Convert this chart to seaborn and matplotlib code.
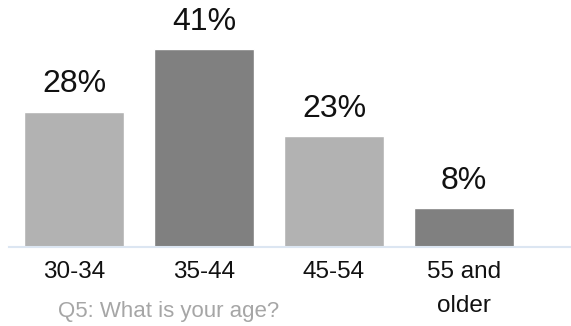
import matplotlib
matplotlib.use("Agg")
import matplotlib.pyplot as plt
import seaborn as sns
import pandas as pd

categories = ["30-34", "35-44", "45-54", "55 and\nolder"]
shares = [28, 41, 23, 8]
bar_colors = ["#b2b2b2", "#808080", "#b2b2b2", "#808080"]
caption = "Q5: What is your age?"

sns.set_theme(style="white")
plt.rcParams["font.family"] = ["Liberation Sans", "DejaVu Sans"]

df = pd.DataFrame({"age": categories, "share": shares})

W, H = 571, 326
fig = plt.figure(figsize=(W / 100, H / 100), dpi=100)
ax = fig.add_axes([9 / W, (H - 247) / H, (W - 9) / W, 247 / H])

sns.barplot(data=df, x="age", y="share", hue="age", palette=bar_colors,
            legend=False, width=0.77, saturation=1, ax=ax)

ax.set_xlim(-0.5, -0.5 + (W - 9) / 130)
ax.set_ylim(0, 247 / 4.83)

for i, v in enumerate(shares):
    ax.text(i, v + 4.0, f"{v}%", ha="center", va="baseline", fontsize=23, color="#111111")

for s in ["top", "right", "left"]:
    ax.spines[s].set_visible(False)
ax.spines["bottom"].set_color("#dce6f2")
ax.spines["bottom"].set_linewidth(1.5)
ax.set_yticks([])
ax.set_xlabel("")
ax.set_ylabel("")

ax.set_xticks(range(len(categories)))
ax.set_xticklabels(categories, fontsize=17.5, color="#111111", linespacing=1.72)
ax.tick_params(axis="x", length=0, pad=10)
ax.set_xticks([-0.5, 0.5, 1.5, 2.5], minor=True)
ax.tick_params(axis="x", which="minor", length=6, width=1.2, color="#dce6f2", direction="out")

fig.text(58 / W, 1 - 311 / H, caption, fontsize=16, color="#a6a6a6", ha="left", va="center")

fig.savefig("out.png", dpi=100)
